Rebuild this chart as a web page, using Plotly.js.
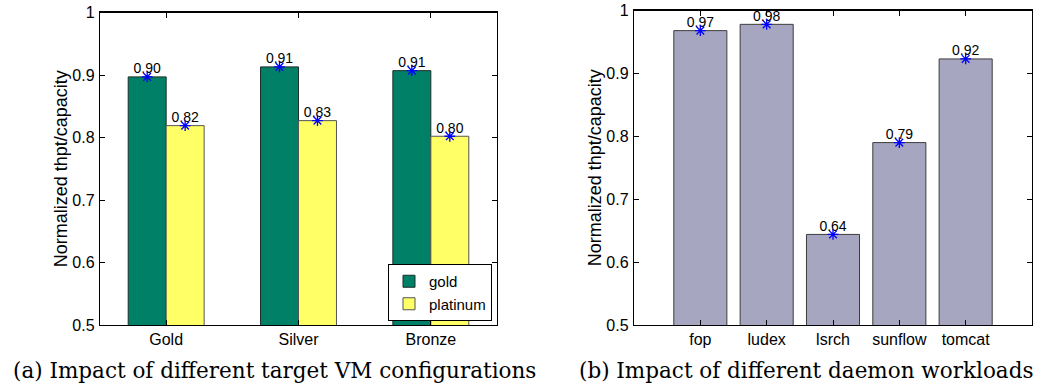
<!DOCTYPE html>
<html>
<head>
<meta charset="utf-8">
<script src="https://cdn.plot.ly/plotly-3.0.1.min.js"></script>
<style>html,body{margin:0;padding:0;background:#fff;}#chart{width:1046px;height:391px;}</style>
</head>
<body>
<div id="chart"></div>
<script>
// Panel (a)
const configs = ["Gold", "Silver", "Bronze"];
const goldVals = [0.897, 0.913, 0.907];
const platinumVals = [0.819, 0.827, 0.802];
// Panel (b)
const workloads = ["fop", "ludex", "lsrch", "sunflow", "tomcat"];
const workloadVals = [0.968, 0.978, 0.644, 0.790, 0.923];
const yTicks = [0.5, 0.6, 0.7, 0.8, 0.9, 1];

const W = 1046, H = 391;
const px = v => v / W, py = v => (H - v) / H;
const barW = 0.287;
const SANS = "Liberation Sans, Arial, sans-serif";
const axisFont = {family: SANS, size: 16, color: "#000"};
const lblFont = {family: SANS, size: 14, color: "#000"};
const idxA = configs.map((_, i) => i);
const idxB = workloads.map((_, i) => i);
const star = {symbol: "asterisk-open", size: 9, color: "#0000ff", line: {color: "#0000ff", width: 1.3}};

function labelTrace(xs, ys, xa, ya) {
  return {type: "scatter", mode: "text", showlegend: false, x: xs, y: ys,
    text: ys.map(v => v.toFixed(2)), textposition: "top center", textfont: lblFont,
    xaxis: xa, yaxis: ya, cliponaxis: false};
}
function starTrace(xs, ys, xa, ya) {
  return {type: "scatter", mode: "markers", showlegend: false, x: xs, y: ys,
    marker: star, xaxis: xa, yaxis: ya, cliponaxis: false};
}

const xGold = idxA.map(i => i - barW / 2);
const xPlat = idxA.map(i => i + barW / 2);

const traces = [
  {type: "bar", name: "gold", x: idxA, y: goldVals, width: barW, offset: -barW,
   marker: {color: "#008066", line: {color: "#1e2e28", width: 1}}, xaxis: "x", yaxis: "y"},
  {type: "bar", name: "platinum", x: idxA, y: platinumVals, width: barW, offset: 0,
   marker: {color: "#ffff66", line: {color: "#555555", width: 1}}, xaxis: "x", yaxis: "y"},
  labelTrace(xGold, goldVals, "x", "y"),
  labelTrace(xPlat, platinumVals, "x", "y"),
  starTrace(xGold, goldVals, "x", "y"),
  starTrace(xPlat, platinumVals, "x", "y"),
  {type: "bar", name: "workloads", showlegend: false, x: idxB, y: workloadVals, width: 0.8, offset: -0.4,
   marker: {color: "#a6a6c1", line: {color: "#3c3c3c", width: 1}}, xaxis: "x2", yaxis: "y2"},
  labelTrace(idxB, workloadVals, "x2", "y2"),
  starTrace(idxB, workloadVals, "x2", "y2")
];

const commonAxis = {
  showline: true, linecolor: "#000", linewidth: 1.2, mirror: "allticks",
  ticks: "inside", ticklen: 5, tickcolor: "#000", tickwidth: 1,
  showgrid: false, zeroline: false, tickfont: axisFont, fixedrange: true
};
const yCommon = Object.assign({}, commonAxis, {
  range: [0.5, 1], tickvals: yTicks, ticktext: yTicks.map(v => String(v)),
  ticklabelstandoff: 1
});
const yTitle = {text: "Normalized thpt/capacity", font: {family: SANS, size: 18, color: "#000"}, standoff: 0};

const layout = {
  width: W, height: H, margin: {l: 0, r: 0, t: 0, b: 0},
  paper_bgcolor: "#fff", plot_bgcolor: "#fff",
  barmode: "group", showlegend: true,
  font: {family: SANS, color: "#000"},
  xaxis: Object.assign({}, commonAxis, {domain: [px(100), px(497)], range: [-0.5, 2.5],
    tickvals: idxA, ticktext: configs, anchor: "y"}),
  yaxis: Object.assign({}, yCommon, {domain: [py(325), py(12.5)], anchor: "x", title: yTitle}),
  xaxis2: Object.assign({}, commonAxis, {domain: [px(634), px(1032)], range: [-1, 5],
    tickvals: idxB, ticktext: workloads, anchor: "y2"}),
  yaxis2: Object.assign({}, yCommon, {domain: [py(325), py(10.5)], anchor: "x2", title: yTitle}),
  legend: {x: px(492), xanchor: "right", y: py(321), yanchor: "bottom",
    bgcolor: "#fff", bordercolor: "#000", borderwidth: 1,
    font: {family: SANS, size: 15, color: "#000"},
    tracegroupgap: 0, itemwidth: 30},
  annotations: [
    {text: "(a) Impact of different target VM configurations", xref: "paper", yref: "paper",
     x: px(274.5), y: py(370), xanchor: "center", yanchor: "middle", showarrow: false,
     font: {family: "DejaVu Serif, serif", size: 21.5, color: "#000"}},
    {text: "(b) Impact of different daemon workloads", xref: "paper", yref: "paper",
     x: px(806), y: py(370), xanchor: "center", yanchor: "middle", showarrow: false,
     font: {family: "DejaVu Serif, serif", size: 21.5, color: "#000"}}
  ]
};

Plotly.newPlot("chart", traces, layout, {displayModeBar: false, staticPlot: true});
</script>
</body>
</html>
